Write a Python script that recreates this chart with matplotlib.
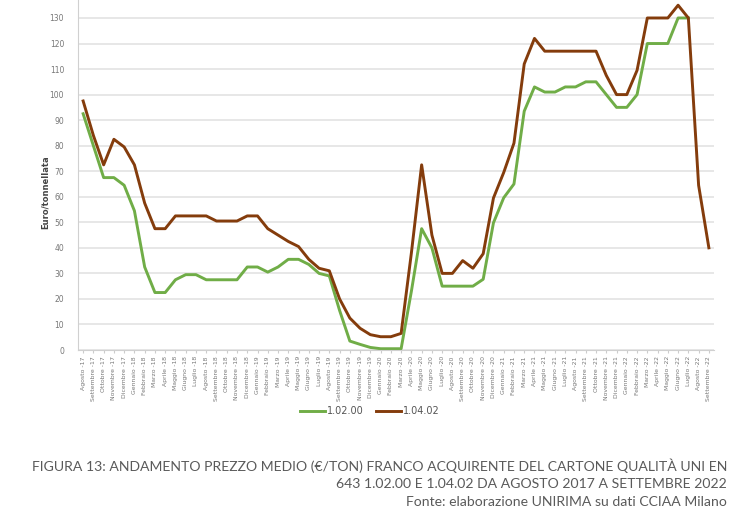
import numpy as np
import matplotlib
matplotlib.use("Agg")
import matplotlib.pyplot as plt

mnames = ["Gennaio", "Febbraio", "Marzo", "Aprile", "Maggio", "Giugno", "Luglio",
          "Agosto", "Settembre", "Ottobre", "Novembre", "Dicembre"]
# Agosto-17 .. Settembre-22
labels = [f"{mnames[(7 + k) % 12]} -{17 + (7 + k) // 12}" for k in range(62)]

s_10200 = [92.5, 80, 67.5, 67.5, 64.5, 54.5, 32.5, 22.5, 22.5, 27.5,
           29.5, 29.5, 27.5, 27.5, 27.5, 27.5, 32.5, 32.5, 30.5, 32.5,
           35.5, 35.5, 33.5, 30, 29, 15.5, 3.5, 2.2, 1, 0.5,
           0.5, 0.5, 23, 47.5, 40, 25, 25, 25, 25, 27.7,
           49.8, 59.6, 65, 93.5, 103, 101, 101, 103, 103, 105,
           105, 100, 95, 95, 100, 120, 120, 120, 130, 130,
           np.nan, np.nan]
s_10402 = [97.5, 84, 72.5, 82.5, 79.5, 72.5, 57.5, 47.5, 47.5, 52.5,
           52.5, 52.5, 52.5, 50.5, 50.5, 50.5, 52.5, 52.5, 47.5, 45,
           42.5, 40.5, 35.5, 32, 31, 20, 12.5, 8.5, 6, 5.2,
           5.2, 6.5, 38, 72.5, 45, 30, 30, 35, 32, 37.7,
           59.5, 69.5, 81, 112, 122, 117, 117, 117, 117, 117,
           117, 107.5, 100, 100, 109.5, 130, 130, 130, 135, 130,
           64.5, 40]
yticks = list(range(0, 140, 10))

fig = plt.figure(figsize=(7.44, 5.22), dpi=100)
ax = fig.add_axes([78/744, 1 - 350/522, (714-78)/744, 350/522])
x = np.arange(len(labels))
ax.set_axisbelow(True)
ax.grid(axis="y", color="#e3e3e3", lw=1.2)
l1, = ax.plot(x, s_10200, color="#70ad47", lw=2.1, label="1.02.00")
l2, = ax.plot(x, s_10402, color="#843c0c", lw=2.1, label="1.04.02")
ax.set_xlim(-0.5, len(labels) - 0.5)
ax.set_ylim(0, 350/2.554)
ax.set_yticks(yticks)
ax.set_yticklabels([str(v) for v in yticks], fontsize=5.5, color="#777777")
ax.set_xticks(x)
ax.set_xticklabels(labels, rotation=90, fontsize=4.4, color="#777777")
ax.tick_params(axis="y", length=0, pad=10)
ax.tick_params(axis="x", length=2.5, color="#cccccc", pad=2)
for s in ["top", "right"]:
    ax.spines[s].set_visible(False)
ax.spines["left"].set_color("#d0d0d0")
ax.spines["bottom"].set_color("#d0d0d0")
ax.set_ylabel("Euro/tonnellata", fontsize=6, fontweight="bold", color="#444444")
ax.yaxis.set_label_coords(-0.045, 0.45)

fig.legend(handles=[l1, l2], loc="center", bbox_to_anchor=(370/744, 1 - 411/522),
           ncol=2, frameon=False, fontsize=7, handlelength=2.6, handletextpad=0.2,
           columnspacing=1.2, labelcolor="#555555")

cap_kw = dict(ha="right", va="center", fontsize=10.05, color="#5a5a5a",
              family="Lato")
fig.text(727/744, 1 - 466/522,
         "FIGURA 13: ANDAMENTO PREZZO MEDIO (€/TON) FRANCO ACQUIRENTE DEL CARTONE QUALITÀ UNI EN",
         **cap_kw)
fig.text(727/744, 1 - 484/522,
         "643 1.02.00 E 1.04.02 DA AGOSTO 2017 A SETTEMBRE 2022", **cap_kw)
fig.text(727/744, 1 - 502/522,
         "Fonte: elaborazione UNIRIMA su dati CCIAA Milano", **cap_kw)

fig.savefig("out.png", dpi=100)
